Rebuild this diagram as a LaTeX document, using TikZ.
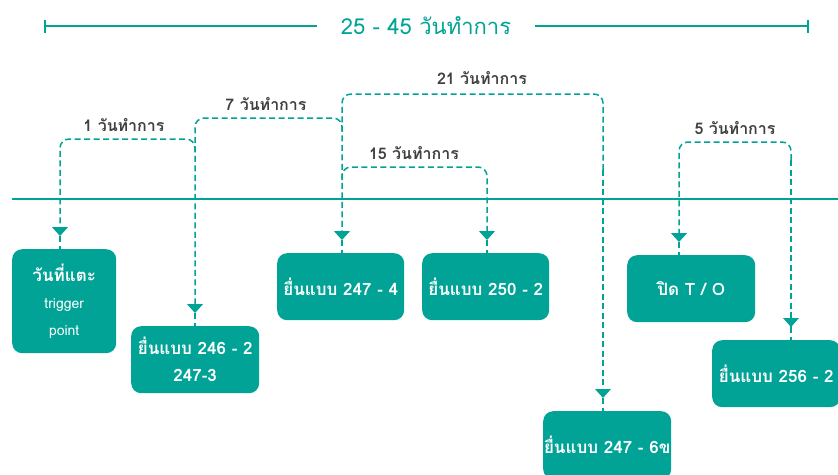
\documentclass[tikz,border=0pt]{standalone}
\usepackage{fontspec}
\newfontfamily\thaifont[Script=Thai]{Loma}
\usetikzlibrary{arrows.meta}
\definecolor{tealc}{RGB}{0,163,150}
\definecolor{grayc}{RGB}{64,64,64}
\tikzset{
  dl/.style={draw=tealc, line width=1.5pt, dash pattern=on 6pt off 3.5pt, rounded corners=9pt},
  tipend/.style={-{Triangle[width=16pt,length=9pt]}},
  box/.style={fill=tealc, rounded corners=10pt, anchor=north west, text=white, align=center, inner sep=0pt,
    font=\thaifont\fontsize{17}{27}\bfseries},
  lab/.style={text=grayc, font=\thaifont\fontsize{16}{18}\bfseries},
  solidline/.style={draw=tealc, line width=2pt},
}
\begin{document}
\begin{tikzpicture}[x=1pt,y=1pt]
\useasboundingbox (0,0) rectangle (838,-474);

% title bracket
\node[text=tealc, font=\thaifont\fontsize{22}{24}\selectfont, inner xsep=24pt] (title) at (426,-26) {25 - 45 วันทำการ};
\coordinate (tl) at (44,-26);
\coordinate (tr) at (809,-26);
\draw[solidline, {Bar[width=13pt]}-] (tl) -- (title.west);
\draw[solidline, -{Bar[width=13pt]}] (title.east) -- (tr);

% main timeline
\coordinate (ml) at (12,-199);
\coordinate (mr) at (838,-199);
\draw[solidline] (ml) -- (mr);

% boxes
\node[box, minimum width=104pt, minimum height=104pt] (b1) at (12,-249)
  {วันที่แตะ\\[0pt]{\mdseries\fontsize{14}{28}\selectfont trigger}\\[0pt]{\mdseries\fontsize{14}{28}\selectfont point}};
\node[box, minimum width=128pt, minimum height=67pt] (b2) at (131,-326) {ยื่นแบบ 246 - 2\\247-3};
\node[box, minimum width=127pt, minimum height=67pt] (b3) at (277,-253) {ยื่นแบบ 247 - 4};
\node[box, minimum width=127pt, minimum height=67pt] (b4) at (422,-253) {ยื่นแบบ 250 - 2};
\node[box, minimum width=128pt, minimum height=67pt] (b5) at (627,-255) {ปิด T / O};
\node[box, minimum width=128pt, minimum height=67pt] (b6) at (712,-340) {ยื่นแบบ 256 - 2};
\node[box, minimum width=128pt, minimum height=68pt] (b7) at (543,-411) {ยื่นแบบ 247 - 6ข};

% arrow tips
\coordinate (t1) at (60,-236);
\coordinate (t2) at (195,-313);
\coordinate (t3) at (342,-240);
\coordinate (t4) at (487,-240);
\coordinate (t5) at (679,-242);
\coordinate (t6) at (791,-327);
\coordinate (t7) at (603,-398);

% stubs into boxes
\draw[dl] (t1) -- (t1 |- b1.north);
\draw[dl] (t2) -- (t2 |- b2.north);
\draw[dl] (t3) -- (t3 |- b3.north);
\draw[dl] (t4) -- (t4 |- b4.north);
\draw[dl] (t5) -- (t5 |- b5.north);
\draw[dl] (t6) -- (t6 |- b6.north);
\draw[dl] (t7) -- (t7 |- b7.north);

% brackets
\draw[dl, tipend] (195,-152) -- (195,-139) -- (60,-139) -- (t1);
\draw[dl, tipend] (342,-131) -- (342,-118) -- (195,-118) -- (t2);
\draw[dl, tipend] (603,-170) -- (603,-94) -- (342,-94) -- (t3);
\draw[dl] (603,-170) -- (t7);
\draw[dl, tipend] (342,-180) -- (342,-167) -- (487,-167) -- (t4);
\draw[dl, tipend] (791,-160) -- (791,-142) -- (679,-142) -- (t5);
\draw[dl] (791,-160) -- (t6);
\fill[tealc] (t7) -- ++(-8,9) -- ++(16,0) -- cycle;
\fill[tealc] (t6) -- ++(-8,9) -- ++(16,0) -- cycle;

% labels
\node[lab] (l1) at (124,-125) {1 วันทำการ};
\node[lab] (l7) at (266,-104) {7 วันทำการ};
\node[lab] (l21) at (482,-78) {21 วันทำการ};
\node[lab] (l15) at (414,-153) {15 วันทำการ};
\node[lab] (l5) at (735,-128) {5 วันทำการ};
\end{tikzpicture}
\end{document}
